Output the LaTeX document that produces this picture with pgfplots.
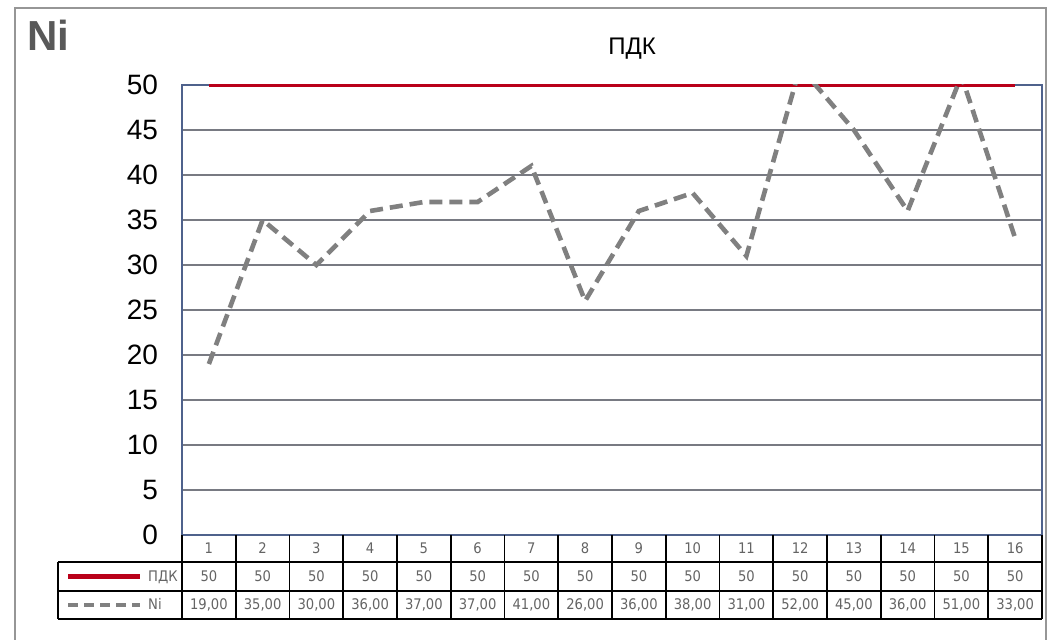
\documentclass[border=0pt]{standalone}
\usepackage{pgfplots}
\pgfplotsset{compat=1.18}
\usepackage{pgfplotstable}
\usepackage{fontspec}
\setmainfont{Liberation Sans}
\newfontfamily\tabfont{DejaVu Sans Condensed}
\definecolor{pdkred}{RGB}{185,0,25}
\definecolor{nigrey}{RGB}{128,128,128}
\definecolor{gridc}{RGB}{120,122,130}
\definecolor{axisc}{RGB}{79,98,140}
\definecolor{tabtext}{RGB}{100,100,100}
\definecolor{framec}{RGB}{150,150,150}

\pgfplotstableread{
x pdk ni nilab
1 50 19 19,00
2 50 35 35,00
3 50 30 30,00
4 50 36 36,00
5 50 37 37,00
6 50 37 37,00
7 50 41 41,00
8 50 26 26,00
9 50 36 36,00
10 50 38 38,00
11 50 31 31,00
12 50 52 52,00
13 50 45 45,00
14 50 36 36,00
15 50 51 51,00
16 50 33 33,00
}\datatable

\pgfplotsset{common/.style={
  scale only axis, width=430pt, height=225pt,
  at={(0,0)}, anchor=south west,
  xmin=0.5, xmax=16.5, ymin=0, ymax=50,
}}

\begin{document}
\begin{tikzpicture}[tabnode/.style={font=\tabfont\fontsize{7.3}{7.3}\selectfont, text=tabtext, text height=5.2pt, text depth=0.5pt}]
\useasboundingbox (-91pt,-52.5pt) rectangle (437pt,267.5pt);
\fill[white] (-91pt,-52.5pt) rectangle (437pt,267.5pt);
\draw[framec, line width=1pt] (-83.5pt,-53pt) -- (-83.5pt,263.5pt) -- (432pt,263.5pt) -- (432pt,-53pt);
\node[anchor=west, text=black!65, font=\fontsize{21}{21}\selectfont\bfseries] at (-81pt,250pt) {Ni};
\node[font=\fontsize{12}{12}\selectfont] at (225pt,243pt) {ПДК};

\begin{axis}[common,
  axis line style={axisc, line width=0.8pt},
  xtick=\empty,
  ytick={0,5,...,50},
  ytick style={draw=none},
  ymajorgrids,
  grid style={gridc, line width=0.7pt},
  /pgf/number format/assume math mode=true,
  yticklabel style={font=\fontsize{14}{14}\selectfont, xshift=-8.5pt},
]
\addplot[pdkred, line width=2.4pt] table[x=x, y=pdk] {\datatable};
\addplot[nigrey, line width=2.3pt, dash pattern=on 6.5pt off 3.5pt] table[x=x, y=ni] {\datatable};
\end{axis}

\begin{axis}[common, hide axis, clip=false,
  nodes near coords, point meta=explicit symbolic,
  nodes near coords align={center},
  every node near coord/.style={tabnode, anchor=center},
]
% table grid
\draw[black, line width=0.9pt] (axis cs:-1.80,-3) -- (axis cs:16.5,-3);
\draw[black, line width=0.9pt] (axis cs:-1.80,-6.22) -- (axis cs:16.5,-6.22);
\draw[black, line width=0.9pt] (axis cs:-1.80,-9.33) -- (axis cs:16.5,-9.33);
\draw[black, line width=0.9pt] (axis cs:-1.80,-3) -- (axis cs:-1.80,-9.33);
\pgfplotsinvokeforeach{0.5,1.5,...,16.5}{
  \draw[black, line width=0.9pt] (axis cs:#1,0) -- (axis cs:#1,-9.33);
}
% legend keys
\draw[pdkred, line width=2.4pt] (axis cs:-1.62,-4.61) -- (axis cs:-0.28,-4.61);
\draw[nigrey, line width=2.3pt, dash pattern=on 5pt off 3pt] (axis cs:-1.62,-7.78) -- (axis cs:-0.28,-7.78);
\node[anchor=west, tabnode] at (axis cs:-0.26,-4.61) {ПДК};
\node[anchor=west, tabnode] at (axis cs:-0.26,-7.78) {Ni};
% table values
\addplot[draw=none, mark=none] table[x=x, y expr=-1.5, meta=x] {\datatable};
\addplot[draw=none, mark=none] table[x=x, y expr=-4.61, meta=pdk] {\datatable};
\addplot[draw=none, mark=none] table[x=x, y expr=-7.78, meta=nilab] {\datatable};
\end{axis}
\end{tikzpicture}
\end{document}
